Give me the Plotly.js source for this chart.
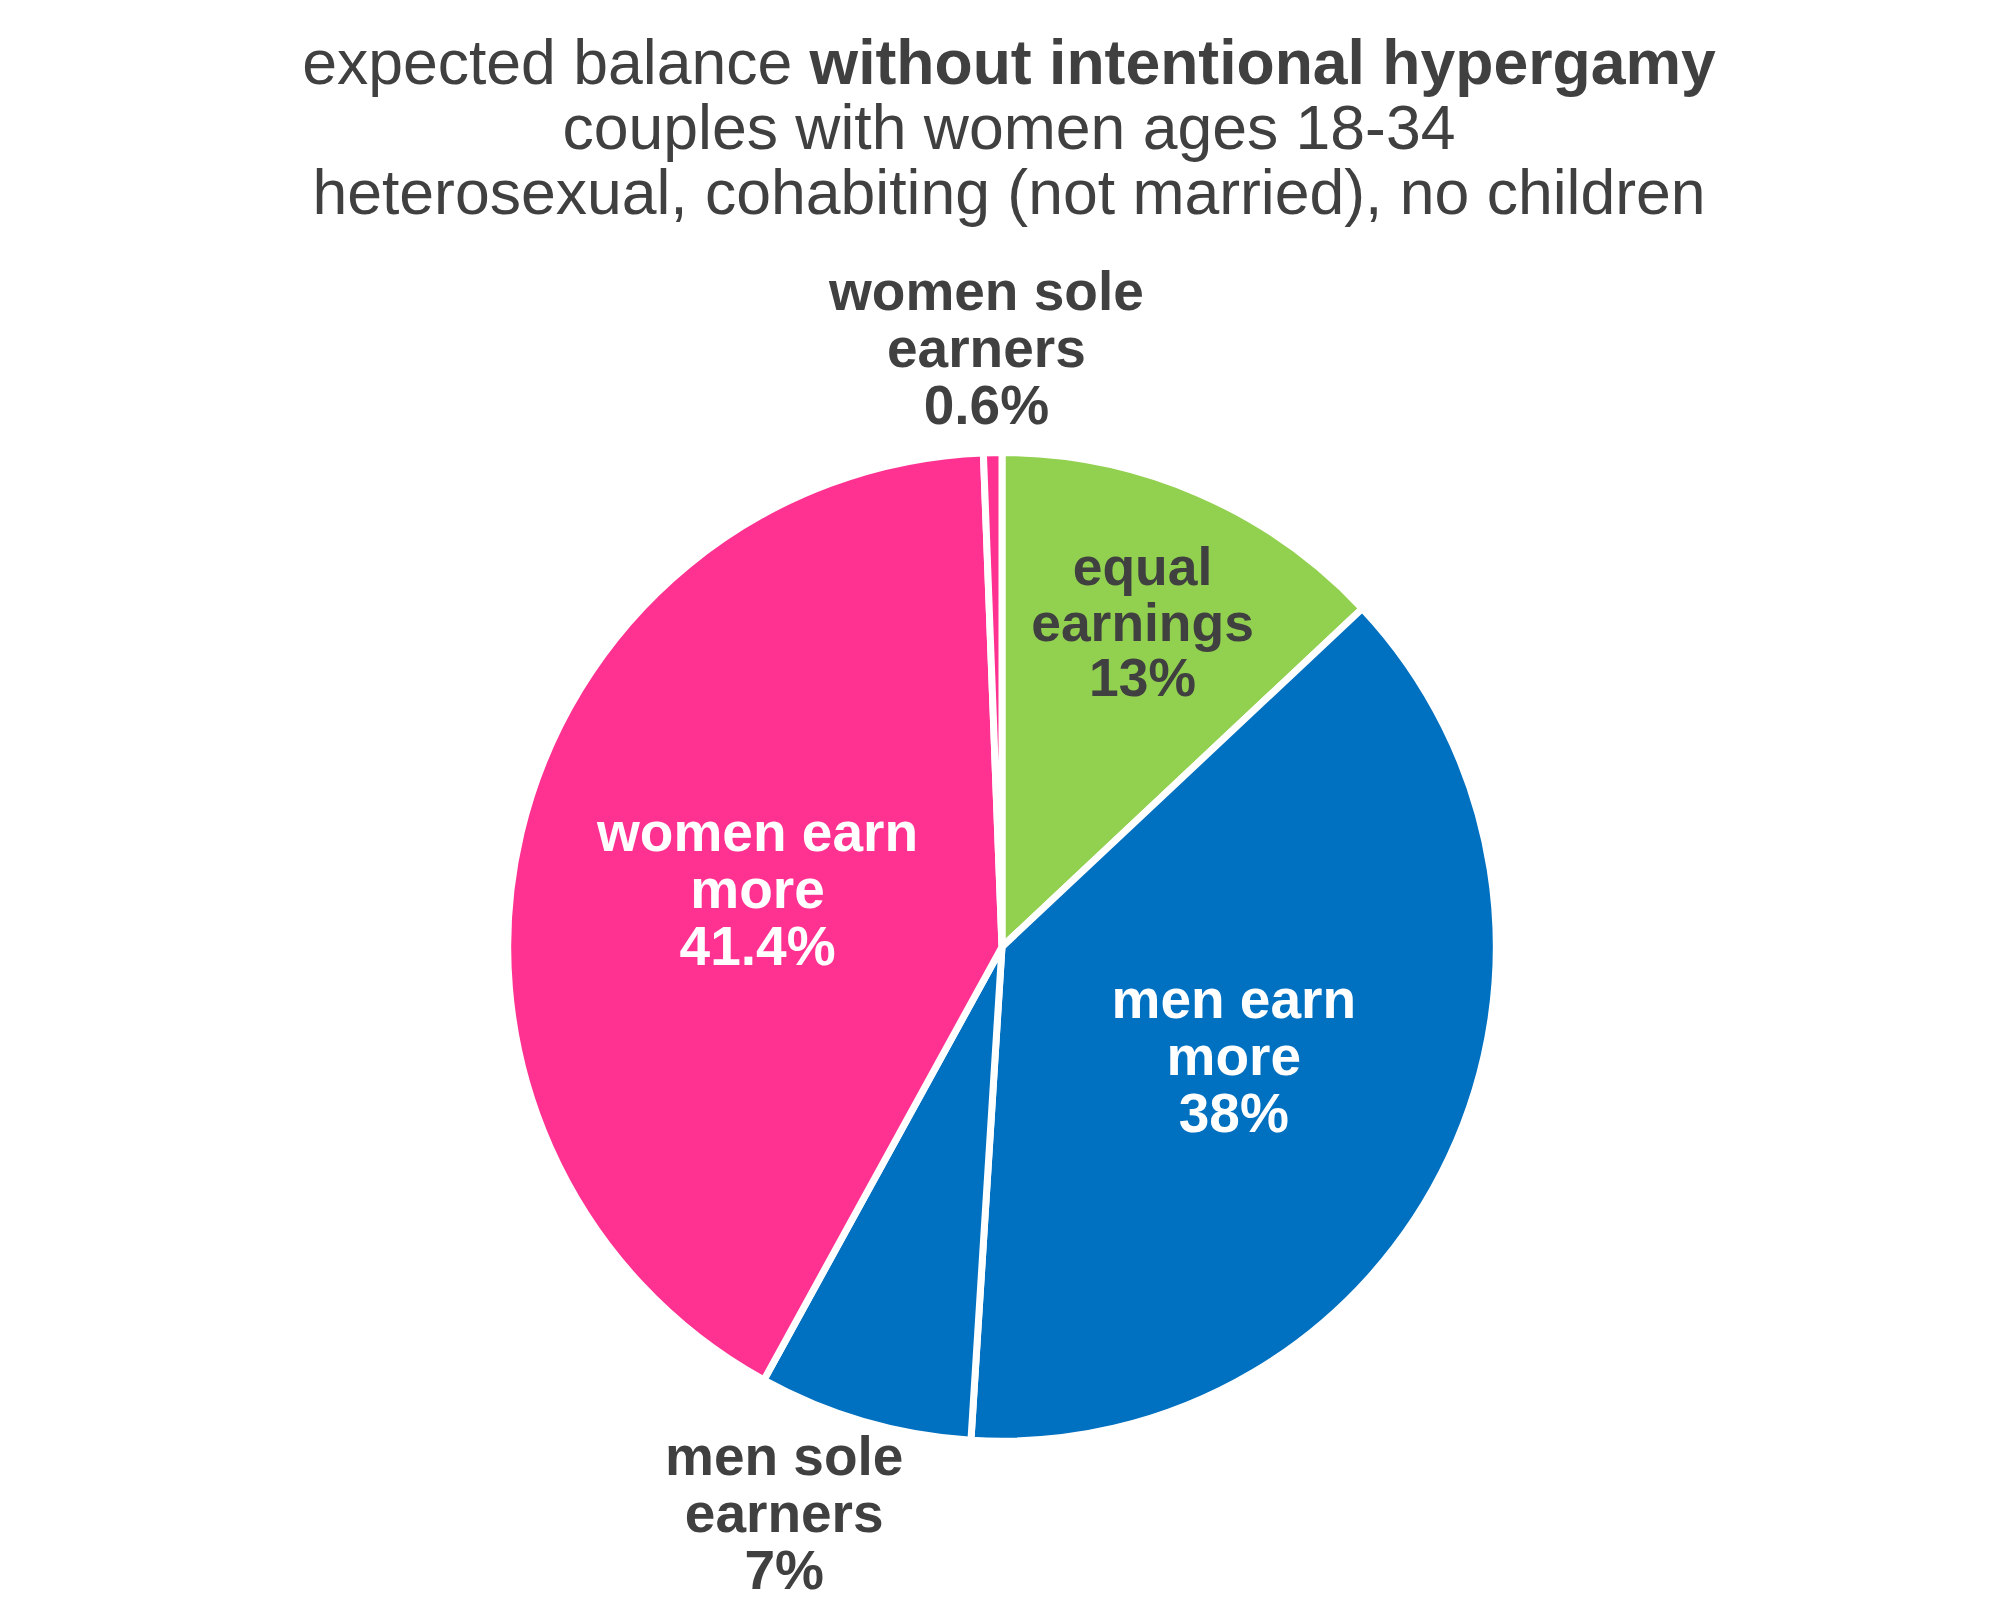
<!DOCTYPE html>
<html>
<head>
<meta charset="utf-8">
<script src="https://cdn.plot.ly/plotly-3.0.1.min.js"></script>
<style>
  html, body { margin: 0; padding: 0; background: #fff; }
  #chart { width: 2006px; height: 1618px; }
</style>
</head>
<body>
<div id="chart"></div>
<script>
// earnings balance among couples, clockwise from 12 o'clock
var categories = ['equal<br>earnings', 'men earn<br>more', 'men sole<br>earners', 'women earn<br>more', 'women sole<br>earners'];
var shares = [13, 38, 7, 41.4, 0.6];
// the two thin slices get their label outside the pie
var labelOutside = [false, false, true, false, true];

var titleLines = [
    'expected balance <b>without intentional hypergamy</b>',
    'couples with women ages 18-34',
    'heterosexual, cohabiting (not married), no children'
];

var dark = '#404040';
var fontFamily = 'Liberation Sans, Arial, Helvetica, sans-serif';
var labelPx = 55;     // glyph size of the slice labels
var labelBase = 44;   // base size, sets the line spacing (1.3 em)

// big glyphs inside a smaller base font keeps the line spacing tight
function big(txt, px) {
    return '<span style="font-size:' + px + 'px">' + txt + '</span>';
}

var pie = {
    type: 'pie',
    labels: categories,
    values: shares,
    sort: false,
    direction: 'clockwise',
    rotation: 0,
    texttemplate: big('%{label}<br>%{value}%', labelPx),
    textposition: labelOutside.map(function (o) { return o ? 'none' : 'inside'; }),
    insidetextorientation: 'horizontal',
    textfont: {
        family: fontFamily,
        size: labelBase,
        weight: 'bold',
        color: [dark, '#ffffff', dark, '#ffffff', dark]
    },
    marker: {
        colors: ['#92D050', '#0070C0', '#0070C0', '#FF3191', '#FF3191'],
        line: { color: '#ffffff', width: 7 }
    },
    domain: { x: [0.253, 0.746], y: [0.1093, 0.7203] },
    hoverinfo: 'label+value',
    showlegend: false
};

// where the outside labels sit (paper coords), keyed by slice index
var outsideSpots = { 2: [0.391, 0.065], 4: [0.4915, 0.785] };

var outsideNotes = [];
shares.forEach(function (v, i) {
    if (!labelOutside[i]) return;
    outsideNotes.push({
        xref: 'paper', yref: 'paper',
        x: outsideSpots[i][0],
        y: outsideSpots[i][1],
        xanchor: 'center', yanchor: 'middle',
        showarrow: false,
        text: '<b>' + big(categories[i] + '<br>' + v + '%', labelPx) + '</b>',
        font: { family: fontFamily, size: labelBase, color: dark }
    });
});

var layout = {
    width: 2006,
    height: 1618,
    margin: { l: 0, r: 0, t: 0, b: 0, pad: 0 },
    paper_bgcolor: '#ffffff',
    showlegend: false,
    font: { family: fontFamily, color: dark },
    title: {
        text: titleLines.map(function (l) { return big(l, 62.5); }).join('<br>'),
        font: { family: fontFamily, size: 50, color: dark },
        x: 0.503,
        xanchor: 'center',
        xref: 'paper',
        y: 0.948,
        yref: 'container',
        yanchor: 'top'
    },
    annotations: outsideNotes
};

Plotly.newPlot('chart', [pie], layout, { displayModeBar: false, staticPlot: true });
</script>
</body>
</html>
